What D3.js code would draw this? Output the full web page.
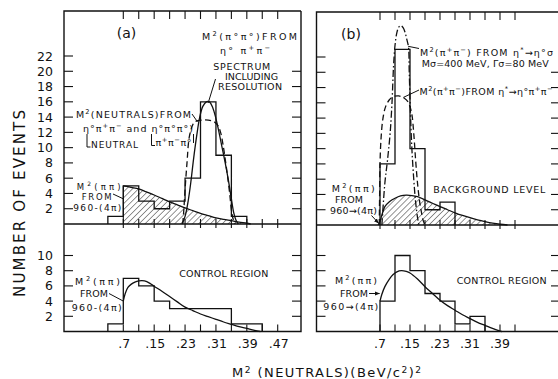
<!DOCTYPE html>
<html><head><meta charset="utf-8">
<script src="https://cdn.jsdelivr.net/npm/d3@7"></script>
<style>body{margin:0;background:#fff} svg{display:block}</style>
</head><body>
<svg id="c" width="558" height="379"></svg>
<script>
// ---------------- data ----------------
const binWidth = 0.04;
const aTopBinStarts = [0.03,0.07,0.11,0.15,0.19,0.23,0.27,0.31,0.35];
const aTopCounts    = [1,5,3,2,3,6,16,9,1];
const aBotBinStarts = [0.03,0.07,0.11,0.15,0.19,0.23,0.27,0.31,0.35,0.39];
const aBotCounts    = [1,7,6,4,3,3,3,3,1,1];
const bTopBinStarts = [0.07,0.11,0.15,0.19,0.23];
const bTopCounts    = [8,23,10,2,3];
const bBotBinStarts = [0.07,0.11,0.15,0.19,0.23,0.27,0.31];
const bBotCounts    = [4,10,8,5,4,1,2];

// M^2(pi pi) from 960 -> 4pi (hatched background), panel a
const aBackground = [[0.07,5.0],[0.09,4.8],[0.11,4.6],[0.13,4.2],[0.15,3.8],[0.17,3.35],[0.19,2.9],[0.21,2.5],[0.23,2.1],[0.25,1.75],[0.27,1.4],[0.29,1.1],[0.31,0.8],[0.33,0.6],[0.35,0.43],[0.37,0.25],[0.39,0.1],[0.40,0]];
// spectrum including resolution (solid), panel a
const aSpectrum = [[0.222,0],[0.23,1],[0.238,3],[0.245,5.5],[0.252,8.5],[0.26,11.5],[0.268,14],[0.276,15.4],[0.285,16.0],[0.293,16.0],[0.302,15.2],[0.31,13.8],[0.318,12],[0.326,10],[0.334,8],[0.342,5.8],[0.35,3.3],[0.356,1.5],[0.362,0.5],[0.368,0]];
// M^2(neutrals) (dashed), panel a
const aNeutrals = [[0.224,0],[0.227,2],[0.23,4.5],[0.235,8],[0.241,11.4],[0.25,13],[0.256,13.4],[0.275,13.6],[0.29,13.6],[0.305,13.4],[0.315,12.9],[0.322,12],[0.328,10.5],[0.334,8.5],[0.34,6.3],[0.346,3.8],[0.351,1.5],[0.356,0.4],[0.36,0]];
// control region curve, panel a
const aControl = [[0.07,4.0],[0.075,5.0],[0.082,5.8],[0.09,6.2],[0.10,6.5],[0.11,6.65],[0.125,6.65],[0.14,6.3],[0.15,5.95],[0.17,5.3],[0.19,4.6],[0.21,3.9],[0.23,3.2],[0.25,2.75],[0.27,2.3],[0.29,1.95],[0.31,1.6],[0.33,1.25],[0.35,0.95],[0.37,0.65],[0.39,0.4],[0.41,0.15],[0.425,0]];

// background (hatched), panel b
const bBackground = [[0.065,0],[0.07,0.5],[0.075,1.3],[0.083,2.4],[0.095,3.05],[0.11,3.5],[0.125,3.8],[0.14,3.9],[0.155,3.85],[0.17,3.7],[0.19,3.3],[0.21,2.85],[0.23,2.4],[0.25,2.0],[0.27,1.6],[0.29,1.25],[0.31,0.95],[0.33,0.68],[0.35,0.45],[0.37,0.25],[0.39,0.1],[0.41,0]];
// eta* -> eta0 pi+ pi- (dashed), panel b
const bPhaseSpace = [[0.068,0],[0.069,4],[0.07,8],[0.073,11.5],[0.078,14],[0.085,15.5],[0.095,16.4],[0.105,16.8],[0.12,16.9],[0.135,16.6],[0.145,16.1],[0.15,15.5],[0.155,14.5],[0.16,12],[0.165,8.5],[0.17,5.5],[0.175,3.3],[0.18,1.8],[0.185,0.6],[0.19,0]];
// eta* -> eta0 sigma (dash-dot), panel b
const bSigma = [[0.075,0],[0.083,5.5],[0.09,8.5],[0.097,12],[0.102,16],[0.106,20.7],[0.11,23.5],[0.115,25.2],[0.12,25.9],[0.126,26.1],[0.132,25.8],[0.137,25.2],[0.142,24.2],[0.146,23.3],[0.148,20],[0.151,15],[0.155,10],[0.16,6],[0.165,3],[0.17,1],[0.174,0]];
// control region curve, panel b
const bControl = [[0.07,4.0],[0.075,4.9],[0.083,5.9],[0.095,6.9],[0.105,7.5],[0.115,7.85],[0.127,8.0],[0.14,7.9],[0.15,7.7],[0.17,6.9],[0.19,5.9],[0.21,5.0],[0.23,4.1],[0.25,3.4],[0.27,2.8],[0.29,2.2],[0.31,1.7],[0.33,1.2],[0.35,0.8],[0.37,0.4],[0.39,0.05],[0.395,0]];

const xMinorTicksA = [0.07,0.11,0.15,0.19,0.23,0.27,0.31,0.35,0.39,0.43,0.47];
const xMinorTicksB = [0.07,0.11,0.15,0.19,0.23,0.27,0.31,0.35,0.39,0.43];
const xLabelValuesA = [0.07,0.15,0.23,0.31,0.39,0.47];
const xLabelsA = [".7",".15",".23",".31",".39",".47"];
const xLabelValuesB = [0.07,0.15,0.23,0.31,0.39];
const xLabelsB = [".7",".15",".23",".31",".39"];
const yTicksTop = [2,4,6,8,10,12,14,16,18,20,22];
const yTicksTopRight = [2,4,6,8,10,12,14,16,18,20];
const yTicksBot = [2,4,6,8,10];
const yLabelsTop = ["2","4","6","8","10","12","14","16","18","20","22"];
const yLabelsBot = ["2","4","6","8","10"];

// ---------------- layout ----------------
const svg = d3.select("#c");
const FONT = "DejaVu Sans, Liberation Sans, sans-serif";
const xA = d3.scaleLinear([0.07,0.47],[123.3,277.7]);
const yAT = d3.scaleLinear([0,22],[224,56]);
const yAB = d3.scaleLinear([0,10],[331.5,255.5]);
const xB = d3.scaleLinear([0.07,0.43],[380,515]);
const yBT = d3.scaleLinear([0,22],[225,57]);
const yBB = d3.scaleLinear([0,10],[331.5,255.5]);
const frameA = {l:64, r:301, t:11, b:331.5};
const frameB = {l:316.5, r:560, t:12, b:331.5};

const defs = svg.append("defs");
const pat = defs.append("pattern").attr("id","hatch").attr("patternUnits","userSpaceOnUse")
  .attr("width",4.2).attr("height",4.2).attr("patternTransform","rotate(45)");
pat.append("line").attr("x1",0).attr("y1",0).attr("x2",0).attr("y2",4.2)
  .attr("stroke","#111").attr("stroke-width",0.9);
defs.append("marker").attr("id","arr").attr("viewBox","0 0 10 10").attr("refX",9).attr("refY",5)
  .attr("markerWidth",5).attr("markerHeight",5).attr("orient","auto")
  .append("path").attr("d","M0,1 L10,5 L0,9 Z").attr("fill","#111");

const ink = "#111";

function histPath(starts, counts, x, y){
  let p = `M${x(starts[0])},${y(0)}`;
  starts.forEach((s,i)=>{ p += `V${y(counts[i])}H${x(s+binWidth)}`; });
  p += `V${y(0)}`;
  return p;
}
function curve(pts, x, y){
  return d3.line().x(d=>x(d[0])).y(d=>y(d[1])).curve(d3.curveCatmullRom.alpha(0.5))(pts);
}
function hatched(pts, x, y){
  const c = curve(pts, x, y);
  const p0 = pts[0], pn = pts[pts.length-1];
  const d = `M${x(p0[0])},${y(0)}L` + c.slice(1) + `L${x(pn[0])},${y(0)}Z`;
  svg.append("path").attr("d",d).attr("fill","url(#hatch)").attr("stroke","none");
  svg.append("path").attr("d",c).attr("fill","none").attr("stroke",ink).attr("stroke-width",1.3);
  svg.append("line").attr("x1",x(p0[0])).attr("x2",x(p0[0])).attr("y1",y(0)).attr("y2",y(p0[1]))
    .attr("stroke",ink).attr("stroke-width",1.1);
}
function drawHist(starts, counts, x, y){
  svg.append("path").attr("d",histPath(starts,counts,x,y)).attr("fill","none")
    .attr("stroke",ink).attr("stroke-width",1.3);
}
function drawCurve(pts, x, y, dash){
  svg.append("path").attr("d",curve(pts,x,y)).attr("fill","none").attr("stroke",ink)
    .attr("stroke-width",1.3).attr("stroke-dasharray",dash||null);
}
function seg(x1,y1,x2,y2,w,marker){
  const l = svg.append("line").attr("x1",x1).attr("y1",y1).attr("x2",x2).attr("y2",y2)
    .attr("stroke",ink).attr("stroke-width",w||1);
  if(marker) l.attr("marker-end","url(#arr)");
  return l;
}
function label(x, y, str, opt){
  opt = opt||{};
  const t = svg.append("text").attr("x",x).attr("y",y).attr("font-family",FONT)
    .attr("font-size",opt.size||9.5).attr("fill",ink).attr("text-anchor",opt.anchor||"start");
  if(opt.transform) t.attr("transform",opt.transform);
  const re = /\^\{([^}]*)\}|\^(.)/g;
  let last = 0, m, shift = 0;
  const add = (s, sup) => {
    if(!s) return;
    const ts = t.append("tspan").text(s);
    const target = sup ? -4 : 0;
    if(target !== shift){ ts.attr("dy", target - shift); shift = target; }
    if(sup) ts.attr("font-size", (opt.size||9.5)*0.7);
  };
  while((m = re.exec(str))){ add(str.slice(last, m.index), false); add(m[1]||m[2], true); last = re.lastIndex; }
  add(str.slice(last), false);
  if(opt.w) t.attr("textLength", opt.w).attr("lengthAdjust","spacing");
  return t;
}

// ---------------- marks ----------------
hatched(aBackground, xA, yAT);
hatched(bBackground, xB, yBT);
drawHist(aTopBinStarts, aTopCounts, xA, yAT);
drawHist(aBotBinStarts, aBotCounts, xA, yAB);
drawHist(bTopBinStarts, bTopCounts, xB, yBT);
drawHist(bBotBinStarts, bBotCounts, xB, yBB);
drawCurve(aSpectrum, xA, yAT);
drawCurve(aNeutrals, xA, yAT, "6,3.5");
drawCurve(aControl, xA, yAB);
drawCurve(bPhaseSpace, xB, yBT, "6,3.5");
drawCurve(bSigma, xB, yBT, "7,2.5,1.5,2.5");
drawCurve(bControl, xB, yBB);

// ---------------- frames & ticks ----------------
function frame(f, x, yT, yB, xt, ytRight){
  svg.append("path").attr("d",`M${f.r},${f.t}H${f.l}V${f.b}H${f.r}`+(f.r<558?`V${f.t}`:""))
    .attr("fill","none").attr("stroke",ink).attr("stroke-width",1.4);
  seg(f.l, yT(0), f.r, yT(0), 1.3);
  xt.forEach(v=>{
    seg(x(v), f.t, x(v), f.t+8, 1.1);
    seg(x(v), yT(0)-5, x(v), yT(0)+4, 1.1);
    seg(x(v), f.b, x(v), f.b-7, 1.1);
  });
  yTicksTop.forEach(v=> seg(f.l, yT(v), f.l+9, yT(v), 1.1));
  yTicksBot.forEach(v=> seg(f.l, yB(v), f.l+9, yB(v), 1.1));
  ytRight.forEach(v=> seg(f.r, yT(v), f.r-9, yT(v), 1.1));
  yTicksBot.forEach(v=> seg(f.r, yB(v), f.r-9, yB(v), 1.1));
}
frame(frameA, xA, yAT, yAB, xMinorTicksA, yTicksTopRight);
frame(frameB, xB, yBT, yBB, xMinorTicksB, yTicksTopRight);

yTicksTop.forEach((v,i)=> label(53, yAT(v)+4.5, yLabelsTop[i], {size:12.5, anchor:"end"}));
yTicksBot.forEach((v,i)=> label(53, yAB(v)+4.5, yLabelsBot[i], {size:12.5, anchor:"end"}));
xLabelValuesA.forEach((v,i)=> label(xA(v)+1, 348, xLabelsA[i], {size:12.5, anchor:"middle"}));
xLabelValuesB.forEach((v,i)=> label(xB(v)+0, 348, xLabelsB[i], {size:12.5, anchor:"middle"}));

// axis titles
label(25, 203.5, "NUMBER OF EVENTS", {size:15, anchor:"middle", transform:"rotate(-90,25,203.5)", w:187});
label(232, 377, "M^2 (NEUTRALS)(BeV/c^2)^2", {size:13, w:189});

// ---------------- annotations: panel a ----------------
label(126.5, 38, "(a)", {size:14, anchor:"middle"});
label(202, 40, "M^2(π°π°)FROM", {w:95});
label(220, 53.5, "η° π^+π^−", {w:50});
label(213.3, 70, "SPECTRUM", {w:57});
label(225, 79.5, "INCLUDING", {w:53});
label(218, 90, "RESOLUTION", {w:64});
seg(215.5, 79, xA(0.29), yAT(16)+1, 1);
label(76, 118, "M^2(NEUTRALS)FROM", {w:115});
seg(192, 114, xA(0.262), yAT(13.4), 1);
label(83, 131.5, "η°π^+π^− and η°π°π°)", {w:110});
svg.append("path").attr("d","M87,134V147H90.5").attr("fill","none").attr("stroke",ink).attr("stroke-width",1);
label(91, 148, "NEUTRAL", {size:9, w:47});
svg.append("path").attr("d","M151.5,134V145.5H155").attr("fill","none").attr("stroke",ink).attr("stroke-width",1);
label(155.5, 146, "π^+π^−π°", {w:36});
seg(193.5, 134, 193.5, 143, 1);
label(76.7, 189.5, "M^2(ππ)", {size:8.5, w:44});
label(81.7, 199.5, "FROM", {size:8.5, w:30});
seg(113, 194, xA(0.07), yAT(3.3), 1);
label(73.3, 211, "960-(4π)", {size:9, w:48});
// bottom a
label(75, 285, "M^2(ππ)", {w:45});
label(80, 297, "FROM", {w:28});
seg(109, 293.5, xA(0.07), yAB(4.0), 1);
label(71.7, 311, "960-(4π)", {w:50});
label(179.3, 277, "CONTROL REGION", {w:89});

// ---------------- annotations: panel b ----------------
label(351, 39, "(b)", {size:14, anchor:"middle"});
label(420, 56, "M^2(π^+π^−) FROM η^*→η°σ", {w:133});
seg(419, 48.5, xB(0.145), yBT(23.4), 1);
label(421.7, 66.5, "Mσ=400 MeV, Γσ=80 MeV", {w:127});
label(419.5, 95, "M^2(π^+π^−)FROM η^*→η°π^+π^−", {w:133});
seg(419, 90, xB(0.132), yBT(16.7), 1);
label(433.3, 193, "BACKGROUND LEVEL", {w:112});
label(331.7, 191.5, "M^2(ππ)", {w:43});
label(335, 203, "FROM", {w:28});
label(330, 214, "960→(4π)", {w:47});
seg(371.5, 215.5, xB(0.066), yBT(0.25), 1, true);
// bottom b
label(335, 284, "M^2(ππ)", {w:42});
label(340, 297, "FROM", {w:28});
seg(369, 293.5, xB(0.07)-0.5, 293.5, 1, true);
label(323.3, 310, "960→(4π)", {w:55});
label(456.7, 284, "CONTROL REGION", {w:90});
</script>
</body></html>
